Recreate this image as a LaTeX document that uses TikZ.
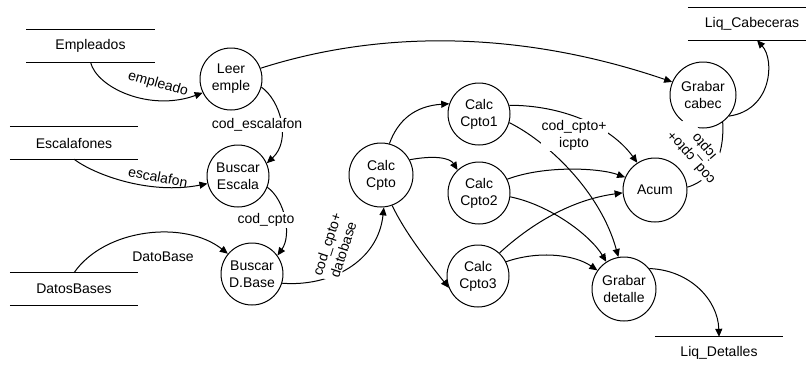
\documentclass[tikz,border=0pt]{standalone}
\usepackage{fontspec}
\setmainfont{Liberation Sans}
\usetikzlibrary{arrows.meta}
\begin{document}
\begin{tikzpicture}[x=1pt,y=-1pt,
  every node/.style={font=\fontsize{14}{17}\selectfont},
  proc/.style={draw,circle,line width=1pt,minimum size=62pt,inner sep=0pt,align=center},
  store/.style={minimum width=128pt,minimum height=32pt,inner sep=0pt},
  flow/.style={line width=1pt,-{Triangle[length=8pt,width=7pt]}},
  plain/.style={line width=1pt},
  lbl/.style={fill=white,inner sep=1pt,align=center},
  tlbl/.style={inner sep=1pt,align=center}]
\useasboundingbox (0,0) rectangle (806,368);

% data stores
\node[store] (emp) at (90.5,46) {Empleados};
\draw[plain] (emp.north west) -- (emp.north east) (emp.south west) -- (emp.south east);
\node[store] (esc) at (74,143) {Escalafones};
\draw[plain] (esc.north west) -- (esc.north east) (esc.south west) -- (esc.south east);
\node[store] (db) at (74,289) {DatosBases};
\draw[plain] (db.north west) -- (db.north east) (db.south west) -- (db.south east);
\node[store] (lc) at (752,24) {Liq\_Cabeceras};
\coordinate (lcR) at (806,24);
\draw[plain] (lc.north west) -- (lc.north west -| lcR) (lc.south west) -- (lc.south west -| lcR);
\node[store] (ld) at (719,353) {Liq\_Detalles};
\draw[plain] (ld.north west) -- (ld.north east);

% processes
\node[proc] (le) at (231,79) {Leer\\emple};
\node[proc] (be) at (238,176) {Buscar\\Escala};
\node[proc] (bd) at (252,274) {Buscar\\D.Base};
\node[proc,minimum size=64pt] (cc) at (381,175) {Calc\\Cpto};
\node[proc] (c1) at (479,114) {Calc\\Cpto1};
\node[proc] (c2) at (479,193) {Calc\\Cpto2};
\node[proc] (c3) at (478,276) {Calc\\Cpto3};
\node[proc,minimum size=64pt] (ac) at (655,190) {Acum};
\node[proc,minimum size=64pt] (gd) at (624,289) {Grabar\\detalle};
\node[proc,minimum size=66pt] (gc) at (703,95) {Grabar\\cabec};

% flows
\draw[flow] (emp.south) .. controls (97,88) and (150,112) .. (le.206);
\draw[flow] (le.20) .. controls (380,30) and (520,30) .. (gc.157);
\draw[flow] (le.-15) .. controls (280,100) and (292,140) .. (be.24);
\draw[flow] (esc.south) .. controls (95,175) and (150,195) .. (be.194);
\draw[flow] (be.-21) .. controls (285,200) and (292,235) .. (bd.36);
\draw[flow] (db.north) .. controls (105,228) and (185,220) .. (bd.140);
\draw[flow] (bd.-17) .. controls (330,287) and (378,262) .. (cc.-85);
\draw[flow] (cc.75) .. controls (398,120) and (415,106) .. (c1.161);
\draw[flow] (cc.28) .. controls (435,155) and (450,158) .. (c2.133);
\draw[flow] (cc.-70) .. controls (405,232) and (425,258) .. (c3.202);
\draw[flow] (c1.16) .. controls (560,105) and (610,125) .. (ac.123);
\draw[flow] (c1.-16) .. controls (545,140) and (600,190) .. (gd.100);
\draw[flow] (c2.26) .. controls (545,165) and (600,168) .. (ac.157);
\draw[flow] (c2.-7) .. controls (550,205) and (590,235) .. (gd.123);
\draw[flow] (c3.47) .. controls (530,225) and (570,200) .. (ac.185);
\draw[flow] (c3.27) .. controls (540,250) and (575,255) .. (gd.145);
\draw[flow] (gd.39) .. controls (690,270) and (718,300) .. (ld.north);
\draw[flow] (gc.-39) .. controls (772,110) and (775,60) .. ([xshift=5pt]lc.south);
\draw[plain] (ac.5) .. controls (705,182) and (725,165) .. (gc.-54);

% labels
\node[tlbl,rotate=-16] (lemp) at (158,84) {empleado};
\node[lbl] (lce) at (257,125) {cod\_escalafon};
\node[tlbl,rotate=-11] (lesc) at (158,177) {escalafon};
\node[lbl] (lcc) at (266,220) {cod\_cpto};
\node[tlbl] (ldb) at (163,257) {DatoBase};
\node[lbl,rotate=72] (lcd) at (335,247) {cod\_cpto+\\datobase};
\node[lbl] (lci) at (574,135) {cod\_cpto+\\icpto};
\node[lbl,rotate=131] (lca) at (698,152) {cod\_cpto+\\icpto};
\end{tikzpicture}
\end{document}
